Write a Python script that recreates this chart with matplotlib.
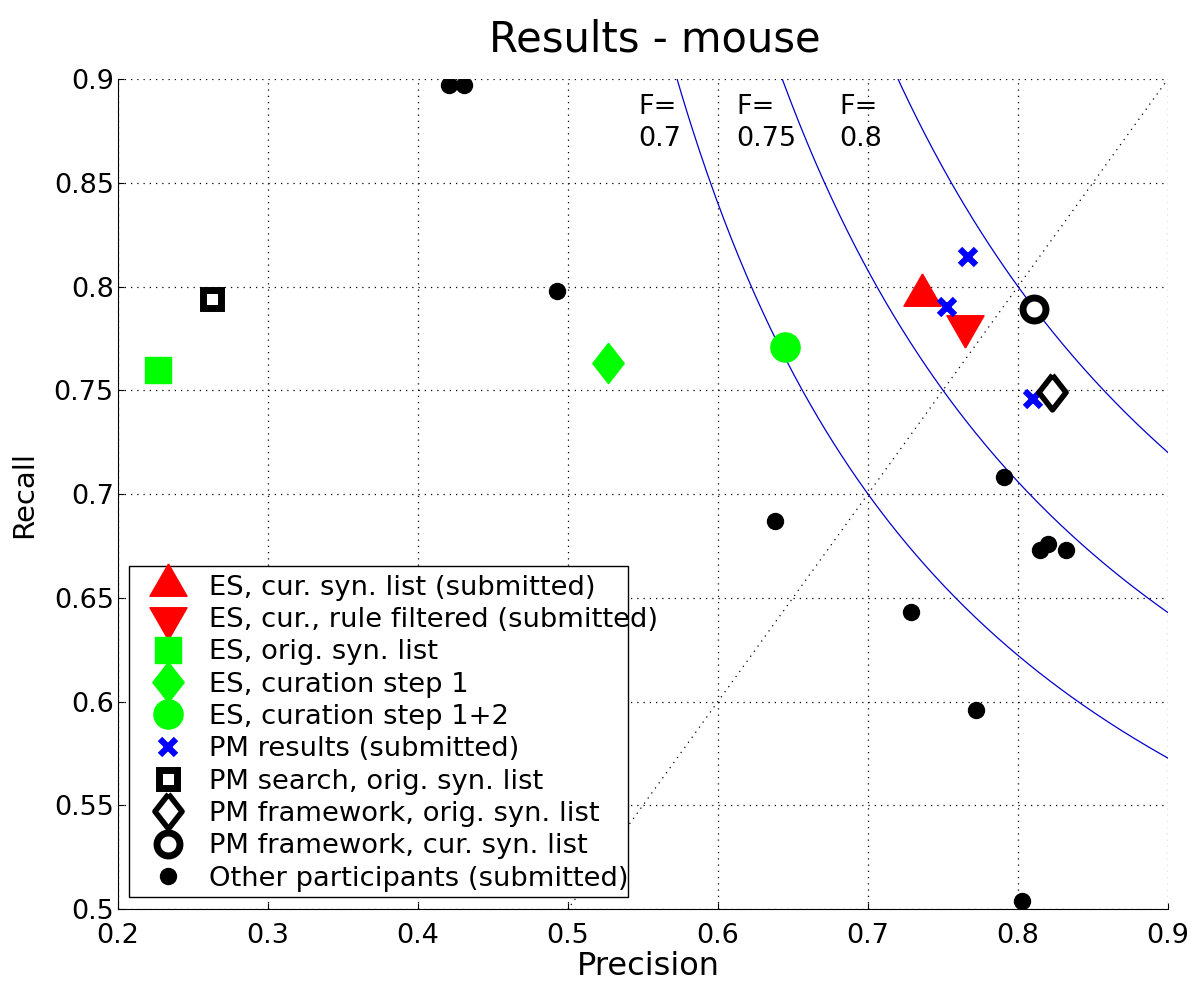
"""Precision/recall scatter for the mouse task, with F-measure isolines"""

import numpy as np
from matplotlib import pyplot as plt
from matplotlib.patches import Rectangle

### data (precision, recall)
es_cur_p, es_cur_r = [0.736], [0.796]
es_rule_p, es_rule_r = [0.765], [0.781]
es_orig_p, es_orig_r = [0.227], [0.760]
es_step1_p, es_step1_r = [0.527], [0.763]
es_step12_p, es_step12_r = [0.645], [0.771]
pm_res_p = [0.767, 0.753, 0.810]
pm_res_r = [0.814, 0.790, 0.746]
pm_search_p, pm_search_r = [0.263], [0.794]
pm_fw_orig_p, pm_fw_orig_r = [0.823], [0.749]
pm_fw_cur_p, pm_fw_cur_r = [0.811], [0.789]
other_p = [0.421, 0.431, 0.493, 0.638, 0.729, 0.772, 0.791, 0.815, 0.820, 0.832, 0.803]
other_r = [0.897, 0.897, 0.798, 0.687, 0.643, 0.596, 0.708, 0.673, 0.676, 0.673, 0.504]

f_values = [0.7, 0.75, 0.8]
f_labels = ["F=\n0.7", "F=\n0.75", "F=\n0.8"]
f_label_x = [0.547, 0.612, 0.681]

plt.rcParams['font.family'] = ['DejaVu Sans']

fig = plt.figure(figsize=(12, 9.9), dpi=100)
ax = fig.add_axes([0.0983, 0.0818, 0.875, 0.8384])

# matlab style markers: tall diamond, wide triangles anchored at the centroid
diamond = [(0, 1), (0.78, 0), (0, -1), (-0.78, 0), (0, 1)]
tri_up = [(0, 1.16), (1, -0.58), (-1, -0.58), (0, 1.16)]
tri_down = [(0, -1.16), (1, 0.58), (-1, 0.58), (0, -1.16)]

### F-measure curves and the P=R diagonal
p = np.linspace(0.2, 0.9, 400)
for f in f_values:
    with np.errstate(divide='ignore', invalid='ignore'):
        r = f * p / (2 * p - f)
    r[(2 * p - f) <= 0] = np.nan
    ax.plot(p, r, color='#0000cc', lw=0.9, zorder=2)
ax.plot([0.2, 0.9], [0.2, 0.9], color='black', lw=0.9, ls=(0, (1, 4)), zorder=2)

for lx, txt in zip(f_label_x, f_labels):
    ax.text(lx, 0.893, txt, fontsize=19.5, va='top', ha='left', linespacing=1.3)

### markers
ax.plot(es_cur_p, es_cur_r, ls='none', marker=tri_up, color='red', ms=31, mec='red',
        label="ES, cur. syn. list (submitted)")
ax.plot(es_rule_p, es_rule_r, ls='none', marker=tri_down, color='red', ms=31, mec='red',
        label="ES, cur., rule filtered (submitted)")
ax.plot(es_orig_p, es_orig_r, 's', color='#00ff00', ms=19, mec='#00ff00',
        label="ES, orig. syn. list")
ax.plot(es_step1_p, es_step1_r, ls='none', marker=diamond, color='#00ff00', ms=29,
        mec='#00ff00', label="ES, curation step 1")
ax.plot(es_step12_p, es_step12_r, 'o', color='#00ff00', ms=21, mec='#00ff00',
        label="ES, curation step 1+2")
ax.plot(pm_res_p, pm_res_r, 'x', color='blue', ms=11, mew=4.5,
        label="PM results (submitted)")
ax.plot(pm_search_p, pm_search_r, 's', mfc='white', mec='black', ms=13, mew=5,
        label="PM search, orig. syn. list")
ax.plot(pm_fw_orig_p, pm_fw_orig_r, ls='none', marker=diamond, mfc='white', mec='black',
        ms=25, mew=4, label="PM framework, orig. syn. list")
ax.plot(pm_fw_cur_p, pm_fw_cur_r, 'o', mfc='white', mec='black', ms=16.5, mew=5,
        label="PM framework, cur. syn. list")
ax.plot(other_p, other_r, 'o', color='black', ms=11.5, ls='none',
        label="Other participants (submitted)")

### axes
ax.set_xlim(0.2, 0.9)
ax.set_ylim(0.5, 0.9)
ax.set_xticks([0.2, 0.3, 0.4, 0.5, 0.6, 0.7, 0.8, 0.9])
ax.set_yticks([0.5, 0.55, 0.6, 0.65, 0.7, 0.75, 0.8, 0.85, 0.9])
ax.set_xticklabels(["0.2", "0.3", "0.4", "0.5", "0.6", "0.7", "0.8", "0.9"])
ax.set_yticklabels(["0.5", "0.55", "0.6", "0.65", "0.7", "0.75", "0.8", "0.85", "0.9"])
ax.grid(True, color='black', lw=0.9, ls=(0, (1, 4)))
ax.set_axisbelow(True)
ax.spines['top'].set_visible(False)
ax.spines['right'].set_visible(False)
ax.tick_params(direction='in', length=4, labelsize=19.5, top=False, right=False)
ax.tick_params(axis='x', pad=10)
ax.tick_params(axis='y', pad=3)

ax.set_xlabel("Precision", fontsize=23)
ax.xaxis.set_label_coords(0.5048, -0.051)
ax.set_ylabel("Recall", fontsize=21, labelpad=11)
ax.set_title("Results - mouse", fontsize=30, pad=20, x=0.511)

### legend: matlab draws a box that is narrower than the longest label,
### so the frame is drawn by hand behind a frameless legend
ax.add_patch(Rectangle((0.0105, 0.0145), 0.4752, 0.3988, transform=ax.transAxes,
                       facecolor='white', edgecolor='black', lw=1.0, zorder=4))
leg = ax.legend(loc='lower left', bbox_to_anchor=(0.0135, 0.0145), borderaxespad=0,
                fontsize=19.7, numpoints=1, handlelength=2.2, handletextpad=0.42,
                labelspacing=0.23, borderpad=0.2, frameon=False)
leg.set_zorder(5)

plt.savefig('out.png', dpi=100)
